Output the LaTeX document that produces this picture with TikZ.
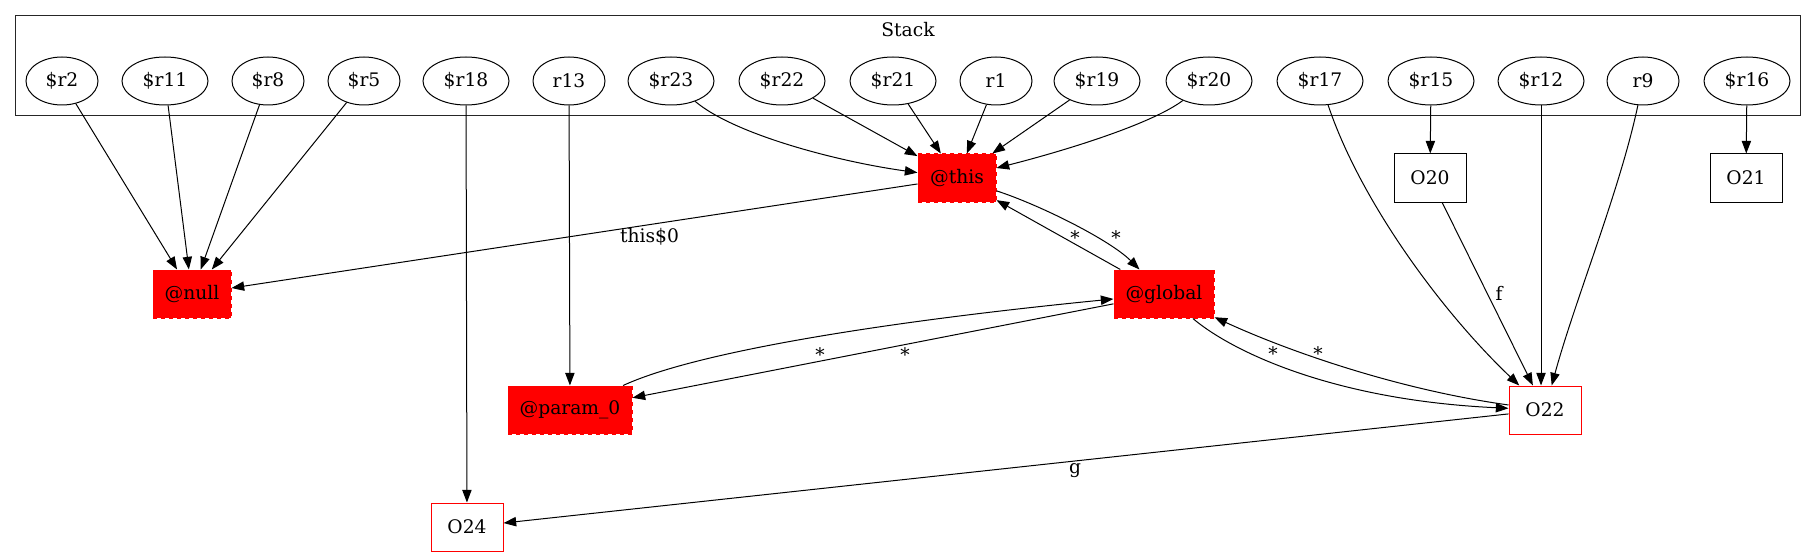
\documentclass[tikz,border=0pt]{standalone}
\usepackage{fontspec}
\setmainfont{DejaVu Serif}
\usetikzlibrary{arrows.meta,shapes.geometric}
\begin{document}
\begin{tikzpicture}[x=0.75pt,y=-0.75pt,
  every node/.style={font=\fontsize{14}{16}\selectfont, inner sep=0pt},
  ell/.style={ellipse, draw, line width=0.75pt, minimum height=36pt, minimum width=54pt},
  ellw/.style={ell, minimum width=64.5pt},
  redbox/.style={rectangle, fill=red, draw=red, dashed, line width=0.75pt, minimum height=36pt},
  outbox/.style={rectangle, draw=red, line width=0.75pt, minimum height=36pt, minimum width=54pt},
  blkbox/.style={rectangle, draw, line width=0.75pt, minimum height=36pt, minimum width=54pt},
  edge/.style={-{Triangle[length=9.5pt,width=7pt]}, line width=0.75pt},
  lbl/.style={anchor=base}]
\useasboundingbox (0,0) rectangle (1816,556);
% cluster
\draw[line width=0.75pt, black!85] (15,16) rectangle (1800,116);
\node[lbl] (stack) at (908,37) {Stack};
% stack ellipses
\node[ell]  (r2)  at (62,81)   {\$r2};
\node[ellw] (r11) at (165,81)  {\$r11};
\node[ell]  (r8)  at (268,81)  {\$r8};
\node[ell]  (r5)  at (364,81)  {\$r5};
\node[ellw] (r18) at (466,81)  {\$r18};
\node[ell]  (r13) at (569,81)  {r13};
\node[ellw] (r23) at (671,81)  {\$r23};
\node[ellw] (r22) at (782,81)  {\$r22};
\node[ellw] (r21) at (893,81)  {\$r21};
\node[ell]  (r1)  at (996,81)  {r1};
\node[ellw] (r19) at (1097,81) {\$r19};
\node[ellw] (r20) at (1209,81) {\$r20};
\node[ellw] (r17) at (1320,81) {\$r17};
\node[ellw] (r15) at (1431,81) {\$r15};
\node[ellw] (r12) at (1541,81) {\$r12};
\node[ell]  (r9)  at (1643,81) {r9};
\node[ellw] (r16) at (1747,81) {\$r16};
% boxes
\node[redbox, minimum width=58.5pt] (this)   at (957,178)  {@this};
\node[redbox, minimum width=58.5pt] (null)   at (192,294)  {@null};
\node[redbox, minimum width=75pt]   (global) at (1164,294) {@global};
\node[redbox, minimum width=93pt]   (param)  at (570,410)  {@param\_0};
\node[outbox] (O22) at (1545,410) {O22};
\node[outbox] (O24) at (467,527)  {O24};
\node[blkbox] (O20) at (1430,178) {O20};
\node[blkbox] (O21) at (1746,178) {O21};
% edges to @null
\draw[edge] (r2)  -- (null);
\draw[edge] (r11) -- (null);
\draw[edge] (r8)  -- (null);
\draw[edge] (r5)  -- (null);
% edges to @this
\draw[edge] (r23) .. controls (735,135) and (840,162) .. (this);
\draw[edge] (r22) -- (this);
\draw[edge] (r21) -- (this);
\draw[edge] (r1)  -- (this);
\draw[edge] (r19) -- (this);
\draw[edge] (r20) .. controls (1150,125) and (1060,152) .. (this);
% verticals
\draw[edge] (r18) -- (O24);
\draw[edge] (r13) -- (param);
\draw[edge] (r15) -- (O20);
\draw[edge] (r16) -- (O21);
\draw[edge] (r12) -- (r12 |- O22.north);
% to O22
\draw[edge] (r17) .. controls (1360,200) and (1440,310) .. (O22);
\draw[edge] (r9) .. controls (1620,190) and (1575,300) .. (O22);
\draw[edge] (O20) -- (O22);
% central
\draw[edge] (this) -- (null);
\draw[edge] (this) .. controls (1040,205) and (1110,240) .. (global);
\draw[edge] (global) -- (this);
\draw[edge] (param) .. controls (700,350) and (900,320) .. (global);
\draw[edge] (global) -- (param);
\draw[edge] (global) .. controls (1230,350) and (1330,400) .. (O22);
\draw[edge] (O22) .. controls (1400,390) and (1290,352) .. (global);
\draw[edge] (O22) -- (O24);
% labels
\node[lbl] (lthis) at (649.5,242) {this\$0};
\node[lbl] (la1) at (1075,244) {*};
\node[lbl] (la2) at (1116,244) {*};
\node[lbl] (la3) at (820,361) {*};
\node[lbl] (la4) at (905,361) {*};
\node[lbl] (la5) at (1273,360) {*};
\node[lbl] (la6) at (1318,360) {*};
\node[lbl] (lf) at (1499,300) {f};
\node[lbl] (lg) at (1075,473) {g};
\end{tikzpicture}
\end{document}
